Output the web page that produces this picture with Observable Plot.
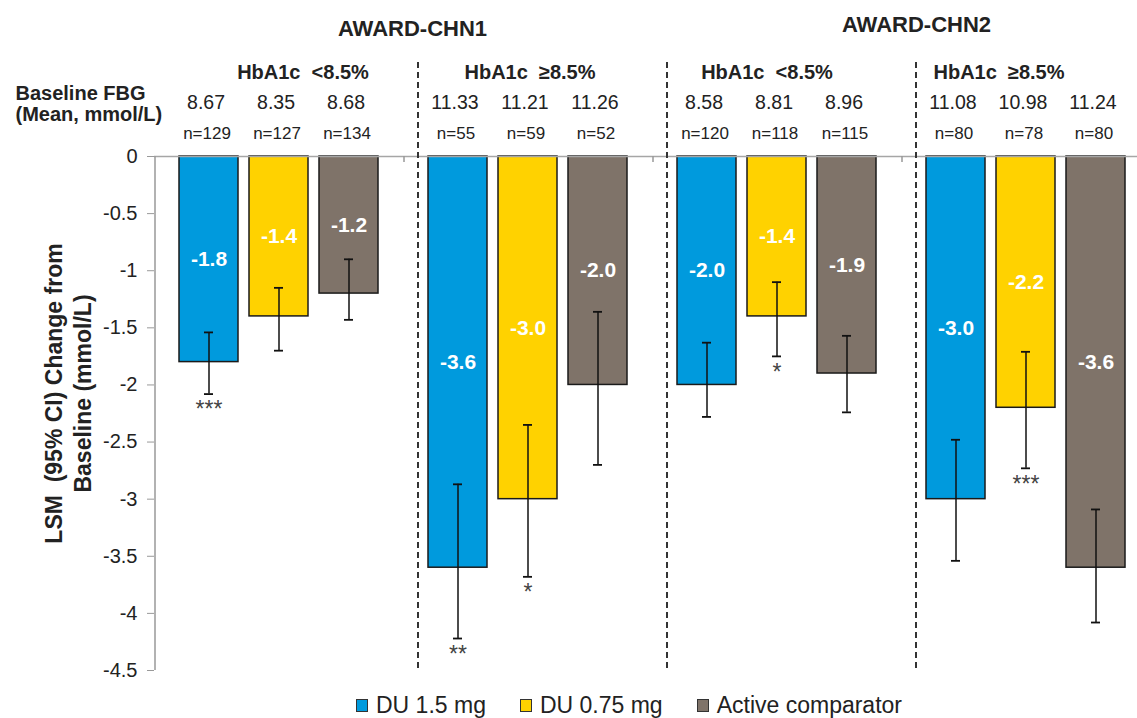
<!DOCTYPE html>
<html>
<head>
<meta charset="utf-8">
<script src="https://cdn.jsdelivr.net/npm/d3@7"></script>
<script src="https://cdn.jsdelivr.net/npm/@observablehq/plot@0.6"></script>
<style>
html, body { margin: 0; padding: 0; background: #fff; }
#wrap { position: relative; width: 1137px; height: 718px; overflow: hidden; font-family: "Liberation Sans", Arial, sans-serif; }
#chart svg { max-width: none !important; display: block; }
#legend { position: absolute; left: 356px; top: 694px; display: flex; align-items: center; font-size: 23px; color: #222; line-height: 23px; white-space: nowrap; }
#legend .item { display: flex; align-items: center; margin-right: 34px; }
#legend .sw { width: 10px; height: 11px; border: 1.5px solid #333; margin-right: 8px; }
</style>
</head>
<body>
<div id="wrap"><div id="chart"></div><div id="legend"></div></div>
<script>
// ---- data ----
const groups = ["CHN1 HbA1c <8.5%", "CHN1 HbA1c ≥8.5%", "CHN2 HbA1c <8.5%", "CHN2 HbA1c ≥8.5%"];
const groupLabels = ["HbA1c\u00a0 <8.5%", "HbA1c\u00a0 ≥8.5%", "HbA1c\u00a0 <8.5%", "HbA1c\u00a0 ≥8.5%"];
const studies = ["AWARD-CHN1", "AWARD-CHN2"];
const series = ["DU 1.5 mg", "DU 0.75 mg", "Active comparator"];
const lsm = [[-1.8, -1.4, -1.2], [-3.6, -3.0, -2.0], [-2.0, -1.4, -1.9], [-3.0, -2.2, -3.6]];
const ciLow = [[-2.08, -1.70, -1.43], [-4.22, -3.68, -2.70], [-2.28, -1.75, -2.24], [-3.54, -2.73, -4.08]];
const ciHigh = [[-1.54, -1.15, -0.90], [-2.87, -2.35, -1.36], [-1.63, -1.10, -1.57], [-2.48, -1.71, -3.09]];
const baselineFBG = [[8.67, 8.35, 8.68], [11.33, 11.21, 11.26], [8.58, 8.81, 8.96], [11.08, 10.98, 11.24]];
const nPatients = [[129, 127, 134], [55, 59, 52], [120, 118, 115], [80, 78, 80]];
const significance = [["***", "", ""], ["**", "*", ""], ["", "*", ""], ["", "***", ""]];
const yTickValues = [0, -0.5, -1, -1.5, -2, -2.5, -3, -3.5, -4, -4.5];
const yLabel = "LSM\u00a0 (95% CI) Change from\nBaseline (mmol/L)";
const baselineLabel = "Baseline FBG\n(Mean, mmol/L)";

// ---- styles ----
const colors = ["#009ADD", "#FFD200", "#7F7369"];
const hbaNudge = [24, 2, -10, -27];
const font = "'Liberation Sans', Arial, sans-serif";

const rows = groups.flatMap((g, gi) => series.map((s, si) => ({
  group: g, series: s, value: lsm[gi][si], lo: ciLow[gi][si], hi: ciHigh[gi][si],
  fbg: baselineFBG[gi][si], n: nPatients[gi][si], sig: significance[gi][si]
})));

const firstBand = () => series[0];

const chart = Plot.plot({
  width: 1150,
  height: 690,
  marginLeft: 154,
  marginRight: 0,
  marginTop: 156,
  marginBottom: 20,
  style: { fontFamily: font, fontSize: "16px", color: "#222", background: "white", overflow: "visible" },
  fx: { domain: groups, padding: 0, axis: null },
  x: { domain: series, paddingInner: 0.163, paddingOuter: 0.347, axis: null },
  y: { domain: [-4.5, 0] },
  color: { domain: series, range: colors },
  marks: [
    Plot.axisY({ ticks: yTickValues, tickFormat: d => String(d), tickSize: 7, tickPadding: 10,
      stroke: "#999", fill: "#222", fontSize: 20, label: null }),
    Plot.barY(rows, { fx: "group", x: "series", y: "value", fill: "series", stroke: "#1a1a1a", strokeWidth: 1.5 }),
    Plot.ruleY([0], { stroke: "#a6a6a6", strokeWidth: 1.5 }),
    // y-axis line (left edge of first facet)
    Plot.ruleX([{ g: groups[0] }], { fx: "g", x: firstBand, dx: -54, stroke: "#999", strokeWidth: 1.5 }),
    // category ticks on the zero line
    Plot.ruleX(groups.slice(1).map(g => ({ g })), { fx: "g", x: firstBand, dx: -54, insetBottom: 508, stroke: "#999", strokeWidth: 1.5 }),
    // dashed separators
    Plot.ruleX(groups.slice(1).map(g => ({ g })), { fx: "g", x: firstBand, dx: -40, insetTop: -94, stroke: "#333", strokeWidth: 2, strokeDasharray: "6,4" }),
    // error bars
    Plot.ruleX(rows, { fx: "group", x: "series", y1: "lo", y2: "hi", stroke: "#111", strokeWidth: 1.5 }),
    Plot.tickY(rows, { fx: "group", x: "series", y: "lo", insetLeft: 25, insetRight: 25, stroke: "#111", strokeWidth: 1.8 }),
    Plot.tickY(rows, { fx: "group", x: "series", y: "hi", insetLeft: 25, insetRight: 25, stroke: "#111", strokeWidth: 1.8 }),
    // bar value labels
    Plot.text(rows, { fx: "group", x: "series", y: d => d.value / 2, text: d => d.value.toFixed(1),
      fill: "white", fontWeight: "bold", fontSize: 21 }),
    // significance stars
    Plot.text(rows.filter(d => d.sig), { fx: "group", x: "series", y: "lo", text: "sig",
      lineAnchor: "top", dy: 7, fill: "#444", fontSize: 23 }),
    // header: baseline FBG and n
    Plot.text(rows, { fx: "group", x: "series", text: d => d.fbg.toFixed(2), frameAnchor: "top", lineAnchor: "middle",
      dx: -3, dy: -54, fontSize: 19.5, fill: "#222" }),
    Plot.text(rows, { fx: "group", x: "series", text: d => "n=" + d.n, frameAnchor: "top", lineAnchor: "middle",
      dx: -2, dy: -23, fontSize: 17, fill: "#222" }),
    // HbA1c group labels
    ...groups.map((g, i) => Plot.text([{ g, label: groupLabels[i] }], { fx: "g", text: "label", frameAnchor: "top",
      lineAnchor: "middle", dx: hbaNudge[i], dy: -84, fontSize: 20, fontWeight: "bold", fill: "#222" })),
    // study titles
    Plot.text([{ g: groups[1], label: studies[0] }], { fx: "g", text: "label", frameAnchor: "top-left", textAnchor: "middle",
      lineAnchor: "middle", dx: 9, dy: -128, fontSize: 22, fontWeight: "bold", fill: "#222" }),
    Plot.text([{ g: groups[3], label: studies[1] }], { fx: "g", text: "label", frameAnchor: "top-left", textAnchor: "middle",
      lineAnchor: "middle", dx: 15, dy: -132, fontSize: 22, fontWeight: "bold", fill: "#222" }),
    // Baseline FBG row label
    Plot.text([{ g: groups[0], label: baselineLabel }], { fx: "g", text: "label", frameAnchor: "top-left", textAnchor: "start",
      lineAnchor: "middle", lineHeight: 1.08, dx: -139, dy: -53, fontSize: 20, fontWeight: "bold", fill: "#222" }),
    // y-axis title
    Plot.text([{ g: groups[0], label: yLabel }], { fx: "g", text: "label", frameAnchor: "left", rotate: -90,
      textAnchor: "middle", lineAnchor: "middle", lineHeight: 1.26, dx: -87, dy: -20, fontSize: 23, fontWeight: "bold", fill: "#222" })
  ]
});
document.getElementById("chart").append(chart);

// legend
const legend = document.getElementById("legend");
series.forEach((s, i) => {
  const item = document.createElement("div");
  item.className = "item";
  const sw = document.createElement("span");
  sw.className = "sw";
  sw.style.background = colors[i];
  const t = document.createElement("span");
  t.textContent = s;
  item.append(sw, t);
  legend.append(item);
});
</script>
</body>
</html>
